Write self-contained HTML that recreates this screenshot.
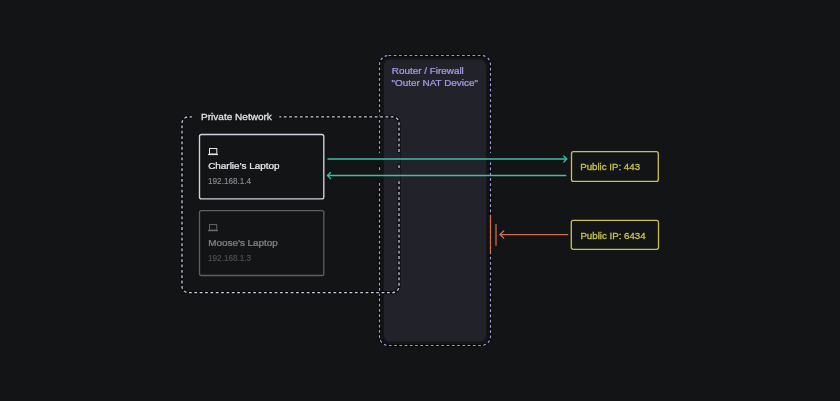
<!DOCTYPE html>
<html><head><meta charset="utf-8">
<style>
html,body{margin:0;padding:0;background:#131416;width:840px;height:401px;overflow:hidden}
svg{display:block;position:absolute;left:0;top:0;will-change:transform}
text{font-family:"Liberation Sans",sans-serif}
</style></head><body>
<svg width="840" height="401" viewBox="0 0 840 401">
  <rect x="0" y="0" width="840" height="401" fill="#131416"/>
  <!-- router -->
  <rect x="379.5" y="55.5" width="111" height="290" rx="9" fill="none" stroke="#0b0b0d" stroke-width="3.2"/>
  <rect x="379.5" y="55.5" width="111" height="290" rx="9" fill="none" stroke="#a198e2" stroke-width="1.2" stroke-dasharray="2.7 2.55"/>
  <rect x="384" y="59.5" width="102" height="282" rx="6" fill="#22222b"/>
  <g fill="#a59be8" stroke="#a59be8" stroke-width="0.25" font-size="9">
    <text transform="translate(391.8 73.5) scale(1.1 1)">Router / Firewall</text>
    <text transform="translate(391.6 86) scale(1.1 1)">"Outer NAT Device"</text>
  </g>
  <!-- private network -->
  <path d="M279.3 116.8 H392.5 A6.5 6.5 0 0 1 399 123.3 V286.2 A6.5 6.5 0 0 1 392.5 292.7 H188.5 A6.5 6.5 0 0 1 182 286.2 V123.3 A6.5 6.5 0 0 1 188.5 116.8 H191.9" fill="none" stroke="#0b0b0d" stroke-opacity="0.75" stroke-width="3.2"/>
  <path d="M279.3 116.8 H392.5 A6.5 6.5 0 0 1 399 123.3 V286.2 A6.5 6.5 0 0 1 392.5 292.7 H188.5 A6.5 6.5 0 0 1 182 286.2 V123.3 A6.5 6.5 0 0 1 188.5 116.8 H191.9" fill="none" stroke="#c8c6dc" stroke-width="1.3" stroke-dasharray="2.8 2.55" stroke-dashoffset="0.85"/>
  <text transform="translate(201.1 119.9) scale(1.08 1)" font-size="9.3" fill="#e4e4ea" stroke="#e4e4ea" stroke-width="0.25">Private Network</text>
  <!-- charlie -->
  <rect x="199.5" y="134.5" width="124.3" height="64.4" rx="2" fill="#131416" stroke="#d4d2e0" stroke-width="1.35"/>
  <g fill="none" stroke="#e4e4ea" stroke-width="1">
    <rect x="209.5" y="148.5" width="7.3" height="5.5"/>
    <path d="M208 154.5 H218" stroke-width="1.2"/>
  </g>
  <text transform="translate(208.2 169.1) scale(1.1 1)" font-size="9" fill="#e8e8ee" stroke="#e8e8ee" stroke-width="0.25">Charlie’s Laptop</text>
  <text transform="translate(208 184.3) scale(0.93 1)" font-size="8.8" fill="#8a8a94" stroke="#8a8a94" stroke-width="0.15">192.168.1.4</text>
  <!-- moose -->
  <g opacity="0.5">
  <rect x="199.5" y="210.6" width="124.3" height="64.9" rx="2" fill="#131416" stroke="#a8a8b2" stroke-width="1.3"/>
  <g fill="none" stroke="#c4c4cc" stroke-width="0.9">
    <rect x="209.5" y="224.6" width="7.3" height="5.5"/>
    <path d="M208 230.6 H218" stroke-width="1.2"/>
  </g>
  <text transform="translate(208.2 245.8) scale(1.1 1)" font-size="9" fill="#e8e8ee" stroke="#e8e8ee" stroke-width="0.25">Moose’s Laptop</text>
  <text transform="translate(208 261) scale(0.93 1)" font-size="8.8" fill="#8a8a94" stroke="#8a8a94" stroke-width="0.15">192.168.1.3</text>
  </g>
  <!-- halo gaps -->
  <g fill="#131416">
    <rect x="378" y="153" width="3" height="12"/>
    <rect x="378" y="170" width="3" height="11"/>
    <rect x="489" y="153" width="3" height="9"/>
  </g>
  <g fill="#22222b">
    <rect x="397" y="153" width="3" height="11"/>
    <rect x="397" y="169" width="3" height="12"/>
  </g>
  <!-- teal arrows -->
  <g stroke="#3cc0a6" stroke-width="1.5" fill="none" stroke-linecap="round" stroke-linejoin="round">
    <path d="M328 159 H566.5"/>
    <path d="M563.8 156 L566.8 159 L563.8 162" stroke-width="1.25"/>
    <path d="M565.7 175.5 H327.5"/>
    <path d="M330.5 172.5 L327.5 175.5 L330.5 178.5" stroke-width="1.25"/>
  </g>
  <!-- public IP boxes -->
  <rect x="571.5" y="151.7" width="86.8" height="29.7" rx="2" fill="none" stroke="#c8c44a" stroke-width="1.3"/>
  <text transform="translate(580.2 170.4) scale(0.99 1)" font-size="9.8" fill="#c8c44a" stroke="#c8c44a" stroke-width="0.3">Public IP: 443</text>
  <rect x="571.3" y="220.4" width="87.2" height="28.9" rx="2" fill="none" stroke="#c8c44a" stroke-width="1.3"/>
  <text transform="translate(580.4 238.5) scale(0.99 1)" font-size="9.8" fill="#c8c44a" stroke="#c8c44a" stroke-width="0.3">Public IP: 6434</text>
  <!-- red -->
  <g stroke="#d46c57" stroke-width="1.25" fill="none" stroke-linecap="round" stroke-linejoin="round">
    <path d="M490.5 215 V253.6" stroke-linecap="butt"/>
    <path d="M496 224 V245.8" stroke-linecap="butt"/>
    <path d="M567.8 234.5 H500"/>
    <path d="M503.7 231 L500 234.5 L503.7 238"/>
  </g>
</svg>
</body></html>
